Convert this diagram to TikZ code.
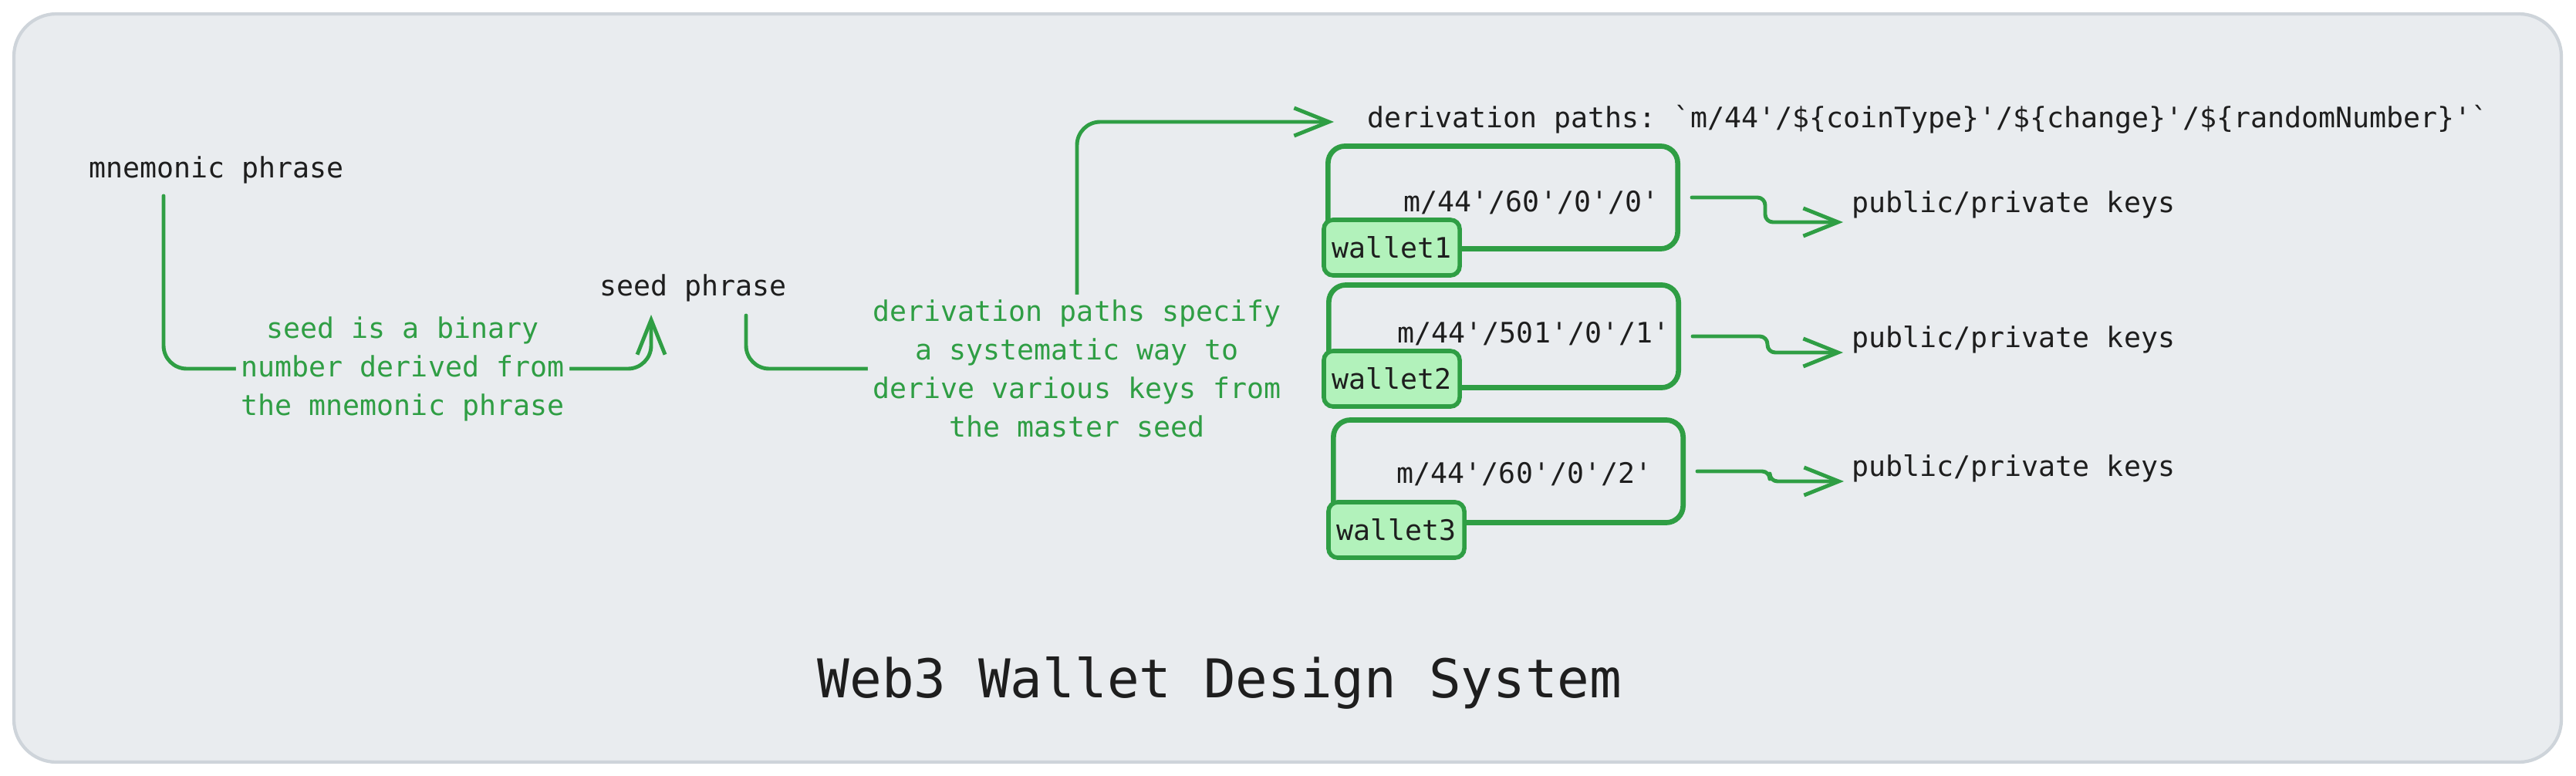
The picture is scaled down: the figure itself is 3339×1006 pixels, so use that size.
\documentclass[tikz,border=0pt]{standalone}
\usepackage{fontspec}
\setmonofont{DejaVu Sans Mono}
\usepackage{tikz}
\usetikzlibrary{arrows.meta,calc}
\definecolor{verde}{HTML}{2F9E44}
\definecolor{verdeclaro}{HTML}{B2F2BB}
\definecolor{canvas}{HTML}{E9ECEF}
\definecolor{moldura}{HTML}{CED4DA}
\definecolor{tinta}{HTML}{1E1E1E}

\begin{document}
\begin{tikzpicture}[x=0.01cm, y=-0.01cm, >={Straight Barb[length=4.5mm,width=3.6mm]},
  txt/.style={font=\ttfamily\fontsize{10.4}{14.2}\selectfont, text=tinta, inner sep=0pt},
  note/.style={txt, text=verde, align=center, fill=canvas, inner sep=2pt},
  conn/.style={->, verde, line width=1.4pt, line cap=round, line join=round, rounded corners=3mm},
  boxw/.style={draw=verde, line width=1.9pt, rounded corners=2.2mm, minimum width=4.53cm, minimum height=1.33cm},
  tag/.style={txt, draw=verde, fill=verdeclaro, line width=1.6pt, rounded corners=1.2mm, minimum width=1.76cm, minimum height=0.72cm}]
  % fundo
  \useasboundingbox (0,0) rectangle (3339,1006);
  \draw[moldura, fill=canvas, line width=1.2pt, rounded corners=5.5mm] (18,18) rectangle (3320,988);

  % frases
  \node[txt, anchor=west] (mnemonic) at (115,220) {mnemonic phrase};
  \node[txt, anchor=west] (seed) at (777,373) {seed phrase};
  \node[txt, anchor=west] (derivpaths) at (1772,155) {derivation paths: `m/44'/\$\{coinType\}'/\$\{change\}'/\$\{randomNumber\}'`};

  % mnemonic -> seed, com a nota no meio
  \draw[conn] ($(mnemonic.west)+(97,34)$) |- (522,478)
    node[note] (seednote) {seed is a binary\\number derived from\\the mnemonic phrase}
    -| ($(seed.west)+(67,35)$);

  % seed -> derivation paths
  \draw[conn] ($(seed.west)+(190,36)$) |- (1396,478)
    node[note] (specnote) {derivation paths specify\\a systematic way to\\derive various keys from\\the master seed}
    |- ($(derivpaths.west)+(-43,3)$);

  % carteiras (caixa, caminho, etiqueta)
  \node[boxw] (box1) at (1948,256) {};
  \node[txt] (path1) at (1985,263) {m/44'/60'/0'/0'};
  \node[tag] (wallet1) at (1804,321) {wallet1};

  \node[boxw] (box2) at (1949,436) {};
  \node[txt] (path2) at (1988,433) {m/44'/501'/0'/1'};
  \node[tag] (wallet2) at (1804,491) {wallet2};

  \node[boxw] (box3) at (1955,611) {};
  \node[txt] (path3) at (1976,615) {m/44'/60'/0'/2'};
  \node[tag] (wallet3) at (1810,687) {wallet3};

  % chaves
  \node[txt, anchor=west] (keys1) at (2400,265) {public/private keys};
  \node[txt, anchor=west] (keys2) at (2400,440) {public/private keys};
  \node[txt, anchor=west] (keys3) at (2400,607) {public/private keys};
  \draw[conn, rounded corners=1mm, shorten <=1.5mm] (box1.east) -- ++(110,0) |- ($(keys1.west)+(-11,23)$);
  \draw[conn, rounded corners=1mm, shorten <=1.5mm] (box2.east) -- ++(112,0) |- ($(keys2.west)+(-11,17)$);
  \draw[conn, rounded corners=1mm, shorten <=1.5mm] (box3.east) -- ++(109,0) |- ($(keys3.west)+(-10,17)$);

  % titulo
  \node[txt, font=\ttfamily\fontsize{19.7}{24}\selectfont] (title) at (1581,885) {Web3 Wallet Design System};
\end{tikzpicture}
\end{document}
